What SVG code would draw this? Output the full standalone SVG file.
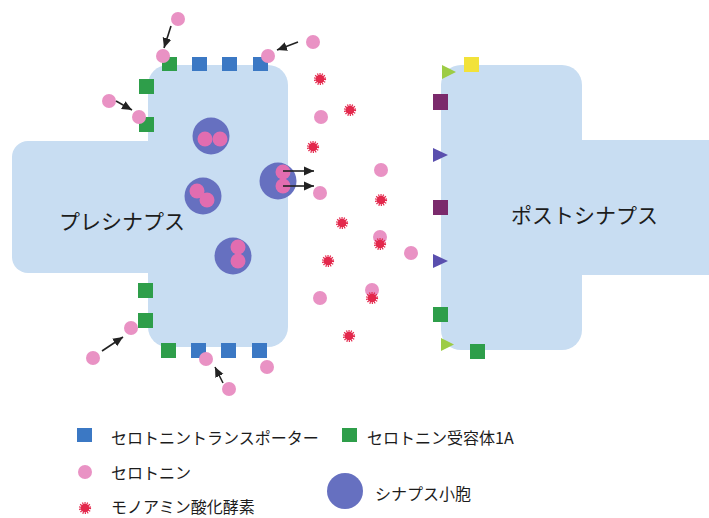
<svg xmlns="http://www.w3.org/2000/svg" xmlns:xlink="http://www.w3.org/1999/xlink" width="709" height="518" viewBox="0 0 709 518">
  <style>
    .cell { fill: #c8ddf2; }
    .sert { fill: #e992c4; }
    .sert-in { fill: #e26db0; }
    .ves { fill: #6670c0; }
    .tr { fill: #3b78c4; }
    .rc { fill: #2e9e4a; }
    .pur { fill: #7b2a6c; }
    .vio { fill: #5a4fae; }
    .lime { fill: #9dcc45; }
    .yel { fill: #f2e23a; }
    .arrow { stroke: #222; stroke-width: 1.6; fill: none; marker-end: url(#head); }
    .lbl { font-family: "Noto Sans CJK JP", "Noto Sans", sans-serif; fill: #1c1c1c; }
  </style>
  <defs>
    <marker id="head" markerUnits="userSpaceOnUse" markerWidth="12" markerHeight="12" refX="10" refY="6" orient="auto">
      <path d="M0,1.5 L10,6 L0,10.5 Z" fill="#222"/>
    </marker>
    <g id="mao">
      <circle r="4.3" fill="#e3284c"/>
      <circle r="4.8" fill="none" stroke="#e3284c" stroke-width="2.6" stroke-dasharray="1.08 1.074"/>
    </g>
  </defs>

  <rect width="709" height="518" fill="#fff"/>

  <!-- presynaptic terminal -->
  <g id="presynapse">
    <rect class="cell" x="148" y="65" width="140" height="282" rx="20"/>
    <rect class="cell" x="12" y="141" width="200" height="132" rx="16"/>
    <text class="lbl" x="59" y="229" font-size="21">プレシナプス</text>
  </g>

  <!-- postsynaptic terminal -->
  <g id="postsynapse">
    <rect class="cell" x="441" y="65" width="141" height="285" rx="20"/>
    <rect class="cell" x="500" y="140" width="225" height="135" rx="16"/>
    <text class="lbl" x="511" y="223" font-size="21">ポストシナプス</text>
  </g>

  <!-- transporters and receptors on the presynaptic membrane -->
  <g id="pre-membrane">
    <rect class="rc" x="162" y="57" width="15" height="14"/>
    <rect class="tr" x="192" y="57" width="15" height="14"/>
    <rect class="tr" x="222" y="57" width="15" height="14"/>
    <rect class="tr" x="253" y="57" width="15" height="14"/>
    <rect class="rc" x="139" y="79" width="15" height="15"/>
    <rect class="rc" x="139" y="117" width="15" height="15"/>
    <rect class="rc" x="138" y="283" width="15" height="15"/>
    <rect class="rc" x="138" y="313" width="15" height="15"/>
    <rect class="rc" x="161" y="343" width="15" height="15"/>
    <rect class="tr" x="191" y="343" width="15" height="15"/>
    <rect class="tr" x="221" y="343" width="15" height="15"/>
    <rect class="tr" x="252" y="343" width="15" height="15"/>
  </g>

  <!-- receptors on the postsynaptic membrane -->
  <g id="post-membrane">
    <polygon class="lime" points="442,65 456,72 442,79"/>
    <rect class="yel" x="464" y="57" width="15" height="15"/>
    <rect class="pur" x="433" y="94" width="15" height="16"/>
    <polygon class="vio" points="433,148 448,155 433,162"/>
    <rect class="pur" x="433" y="200" width="15" height="15"/>
    <polygon class="vio" points="433,254 448,261 433,268"/>
    <rect class="rc" x="433" y="307" width="15" height="15"/>
    <polygon class="lime" points="441,338 454,344.5 441,351"/>
    <rect class="rc" x="470" y="344" width="15" height="15"/>
  </g>

  <!-- synaptic vesicles -->
  <g id="vesicle-1">
    <circle class="ves" cx="211" cy="136" r="18.5"/>
    <circle class="sert-in" cx="205" cy="139" r="7.5"/>
    <circle class="sert-in" cx="220" cy="139" r="7.5"/>
  </g>
  <g id="vesicle-2">
    <circle class="ves" cx="203" cy="196" r="18.5"/>
    <circle class="sert-in" cx="197" cy="191" r="7.5"/>
    <circle class="sert-in" cx="207" cy="200" r="7.5"/>
  </g>
  <g id="vesicle-3">
    <circle class="ves" cx="278" cy="181" r="18.5"/>
    <circle class="sert-in" cx="283" cy="172" r="7.5"/>
    <circle class="sert-in" cx="283" cy="186" r="7.5"/>
  </g>
  <g id="vesicle-4">
    <circle class="ves" cx="233" cy="256" r="18.5"/>
    <circle class="sert-in" cx="238" cy="247" r="7.5"/>
    <circle class="sert-in" cx="238" cy="261" r="7.5"/>
  </g>

  <!-- serotonin molecules -->
  <g id="serotonin">
    <circle class="sert" cx="178" cy="19" r="7"/>
    <circle class="sert" cx="163" cy="56" r="7"/>
    <circle class="sert" cx="313" cy="42" r="7"/>
    <circle class="sert" cx="268" cy="56" r="7"/>
    <circle class="sert" cx="109" cy="101" r="7"/>
    <circle class="sert" cx="139" cy="117" r="7"/>
    <circle class="sert" cx="131" cy="328" r="7"/>
    <circle class="sert" cx="93" cy="358" r="7"/>
    <circle class="sert" cx="206" cy="359" r="7"/>
    <circle class="sert" cx="229" cy="389" r="7"/>
    <circle class="sert" cx="267" cy="367" r="7"/>
    <circle class="sert" cx="321" cy="117" r="7"/>
    <circle class="sert" cx="381" cy="170" r="7"/>
    <circle class="sert" cx="320" cy="193" r="7"/>
    <circle class="sert" cx="380" cy="237" r="7"/>
    <circle class="sert" cx="411" cy="253" r="7"/>
    <circle class="sert" cx="320" cy="298" r="7"/>
    <circle class="sert" cx="372" cy="290" r="7"/>
  </g>

  <!-- monoamine oxidase -->
  <g id="enzymes">
    <use href="#mao" x="320" y="79"/>
    <use href="#mao" x="350" y="110"/>
    <use href="#mao" x="313" y="147"/>
    <use href="#mao" x="381" y="200"/>
    <use href="#mao" x="342" y="223"/>
    <use href="#mao" x="380" y="244"/>
    <use href="#mao" x="328" y="261"/>
    <use href="#mao" x="372" y="298"/>
    <use href="#mao" x="349" y="336"/>
  </g>

  <!-- movement arrows -->
  <g id="connectors">
    <line class="arrow" x1="171" y1="26" x2="164" y2="48"/>
    <line class="arrow" x1="298" y1="42" x2="277" y2="50"/>
    <line class="arrow" x1="116" y1="101" x2="132" y2="110"/>
    <line class="arrow" x1="102" y1="351" x2="123" y2="337"/>
    <line class="arrow" x1="223" y1="383" x2="215" y2="367"/>
    <line class="arrow" x1="283" y1="171" x2="314" y2="171"/>
    <line class="arrow" x1="283" y1="186" x2="314" y2="186"/>
  </g>

  <!-- legend -->
  <g id="legend">
    <rect class="tr" x="77" y="428" width="15" height="14"/>
    <text class="lbl" x="111" y="444" font-size="16">セロトニントランスポーター</text>
    <rect class="rc" x="342" y="428" width="15" height="14"/>
    <text class="lbl" x="367" y="444" font-size="16">セロトニン受容体1A</text>
    <circle class="sert" cx="85" cy="472" r="7"/>
    <text class="lbl" x="111" y="479" font-size="16">セロトニン</text>
    <use href="#mao" x="85" y="508"/>
    <text class="lbl" x="111" y="513" font-size="16">モノアミン酸化酵素</text>
    <circle class="ves" cx="345" cy="491" r="18"/>
    <text class="lbl" x="375" y="500" font-size="16">シナプス小胞</text>
  </g>
</svg>
